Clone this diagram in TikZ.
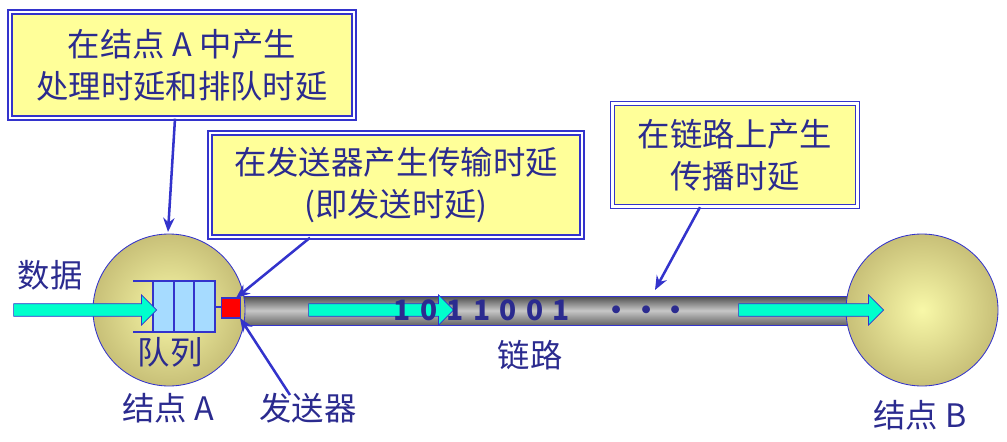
\documentclass[tikz,border=0pt]{standalone}
\usepackage{fontspec}
\setmainfont{Noto Sans CJK SC}
\usetikzlibrary{arrows.meta,shapes.arrows}
\definecolor{tb}{HTML}{2B2B8F}
\definecolor{bb}{HTML}{3333CC}
\definecolor{ly}{HTML}{FFFF99}
\definecolor{cy}{HTML}{00FFCC}
\definecolor{bin}{HTML}{F8F8A8}
\definecolor{bout}{HTML}{C8C078}
\begin{document}
\begin{tikzpicture}[x=0.025cm,y=-0.025cm,
  note/.style={draw=bb,double=white,double distance=1.6pt,line width=1pt,fill=ly,align=center,text=tb,font=\fontsize{23}{30}\selectfont,inner sep=0pt},
  lbl/.style={text=tb,font=\fontsize{23}{28}\selectfont},
  ptr/.style={draw=bb,line width=1.8pt,-{Stealth[length=10pt,width=8pt]}},
  flow/.style={single arrow,draw=bb,fill=cy,minimum height=#1,minimum width=0.75cm,single arrow head extend=0.22cm,inner sep=0pt,inner ysep=4.2pt,line width=0.5pt}]
\useasboundingbox (0,0) rectangle (1007,441);
% boxes
\node[note,minimum width=344*0.025cm,minimum height=106*0.025cm] (b1) at (182,65) {在结点 A 中产生\\处理时延和排队时延};
\node[note,minimum width=372*0.025cm,minimum height=104*0.025cm] (b2) at (396,185) {在发送器产生传输时延\\(即发送时延)};
\node[note,minimum width=245*0.025cm,minimum height=103*0.025cm] (b3) at (735,155) {在链路上产生\\传播时延};
% link
\shade[top color=black!70,bottom color=black!60,middle color=black!22] (240,296) rectangle (885,325);
\draw[bb,line width=0.5pt] (240,296) -- (885,296) (240,325) -- (885,325);
% circles
\shade[inner color=bin,outer color=bout] (169,310) circle (76);
\draw[bb,line width=0.6pt] (169,310) circle (76);
\shade[inner color=bin,outer color=bout] (922,310) circle (76);
\draw[bb,line width=0.6pt] (922,310) circle (76);
% queue
\fill[blue!40!cyan!35] (153,281) rectangle (215,332);
\draw[bb,line width=1.5pt] (133,281) -- (215,281) -- (215,332) -- (133,332);
\draw[bb,line width=0.8pt] (153,281) -- (153,332) (174,281) -- (174,332) (194,281) -- (194,332);
\draw[bb,line width=1.5pt] (215,307) -- (221,307);
\node[draw=bb,fill=red,minimum width=19*0.025cm,minimum height=20*0.025cm,inner sep=0pt,line width=0.8pt] (tx) at (231,308) {};
% flow arrows
\node[flow=143*0.025cm] (f1) at (82,310) {};
\node[flow=145*0.025cm] (f2) at (378,310) {};
\node[flow=145*0.025cm] (f3) at (808,310) {};
% labels
\node[lbl] (d) at (50,275) {数据};
\node[lbl] (q) at (170,352) {队列};
\node[lbl] (na) at (168,408) {结点 A};
\node[lbl] (sx) at (308,408) {发送器};
\node[lbl] (lk) at (530,355) {链路};
\node[lbl] (nb) at (920,415) {结点 B};
\node[text=tb,font=\fontsize{20}{22}\selectfont\bfseries] (bits) at (542,310) {1\,\,0\,\,1\,\,1\,\,0\,\,0\,\,1\quad\,·\kern1pt·\kern1pt·};
% pointers
\coordinate (c1) at (168,232);
\coordinate (c2) at (236,298);
\coordinate (c3) at (240,318);
\coordinate (s3) at (290,395);
\coordinate (c4) at (655,290);
\draw[ptr] (b1.south -| 175,0) -- (c1);
\draw[ptr] (b2.south -| 310,0) -- (c2);
\draw[ptr] (s3) -- (c3);
\draw[ptr] (b3.south -| 700,0) -- (c4);
\end{tikzpicture}
\end{document}
